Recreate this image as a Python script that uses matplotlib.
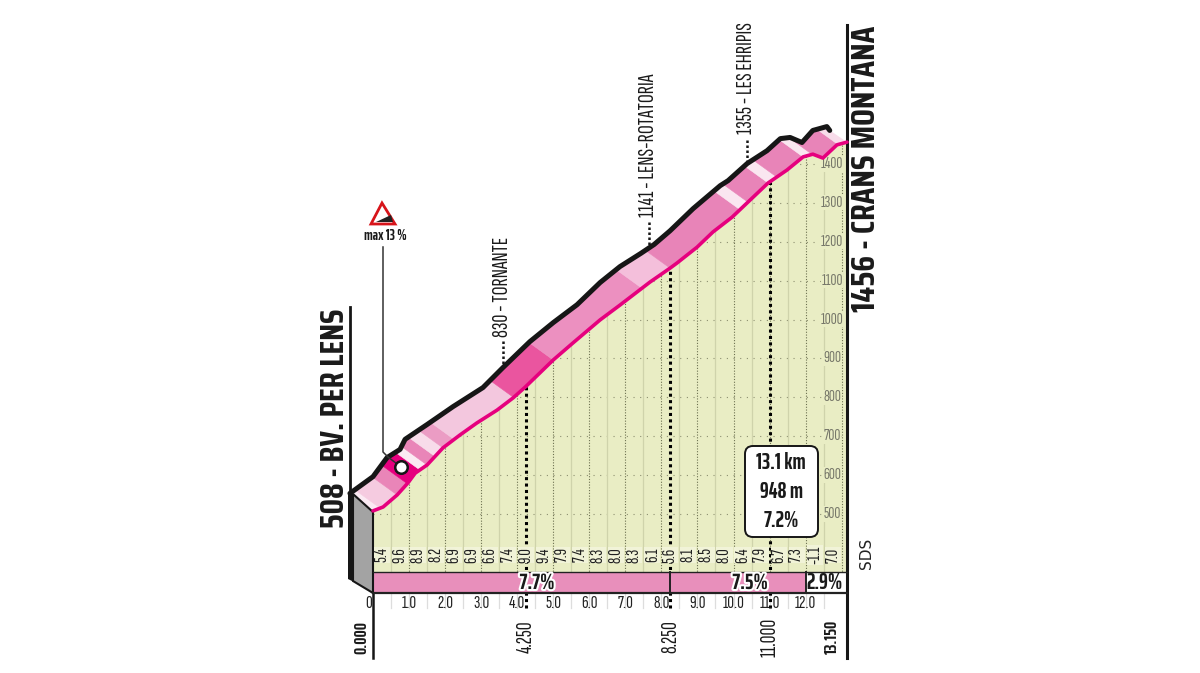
import numpy as np
import matplotlib
matplotlib.use('Agg')
import matplotlib.pyplot as plt
import matplotlib.patheffects as pe
from matplotlib.patches import Polygon, FancyBboxPatch
from matplotlib.transforms import IdentityTransform

NARROW = ['Sofia Sans Extra Condensed', 'DejaVu Sans']
BOLD = ['Saira ExtraCondensed', 'DejaVu Sans']
TITLE = ['Saira Condensed', 'DejaVu Sans']

# road profile, km / metres
profile_km = [0, .28, .67, .97, 1.17, 1.5, 1.94, 2.41, 2.88, 3.44, 3.88, 4.22, 5.0, 5.55, 6.3, 6.85,
              7.68, 8.24, 8.43, 8.99, 9.43, 9.96, 10.46, 10.96, 11.48, 11.93, 12.2, 12.48, 12.87, 13.15]
profile_m = [508, 518, 549, 580, 605, 626, 670, 703, 734, 767, 798, 826, 896, 940, 999, 1037,
             1096, 1132, 1145, 1186, 1225, 1263, 1307, 1351, 1384, 1418, 1425, 1415, 1449, 1456]

# black top edge of the ribbon
top_km = [-.64, 0, .39, .75, .89, 1.5, 2.22, 3.05, 3.6, 4.35, 5.0, 5.66, 6.3, 6.85, 7.43, 7.8, 8.24,
          8.88, 9.63, 9.85, 10.38, 10.93, 11.3, 11.57, 11.9, 12.2, 12.59, 12.67]
top_m = [553, 596, 645, 666, 692, 730, 776, 825, 876, 943, 992, 1038, 1095, 1136, 1170, 1193, 1228,
         1285, 1344, 1357, 1401, 1434, 1465, 1468, 1455, 1486, 1496, 1486]

# gradient per half km
slopes = ['5.4', '9.6', '8.9', '8.2', '6.9', '6.9', '6.6', '7.4', '9.0', '9.4', '7.9', '7.4', '8.3',
          '8.0', '8.3', '6.1', '5.6', '8.1', '8.5', '8.0', '6.4', '7.9', '6.7', '7.3', '-1.1', '7.0']

# coloured bands on the ribbon: km where each ends, and colour
band_end = [.2, .67, .95, 1.30, 1.50, 1.72, 1.94, 2.25, 3.90, 5.0, 7.46, 8.24, 10.18, 10.40,
            10.96, 11.2, 11.93, 12.18, 12.9, 13.15]
band_col = ['#fbeaf3', '#f5cbe0', '#e985b8', '#e6007e', '#fbeaf3', '#e985b8', '#f8dcea', '#eb9cc4', '#f3c7de',
            '#ea559f', '#ec90c0', '#f4bfdb', '#e884b8', '#fae6f0', '#e884b8', '#fae6f0',
            '#e884b8', '#fae6f0', '#e884b8', '#f8dcea']

avg_start = [0, 8.25]
avg_end = [8.25, 12]
avg_text = ['7.7%', '7.5%']
avg_label_px = [537, 750]

elev_ticks = [500, 600, 700, 800, 900, 1000, 1100, 1200, 1300, 1400]
km_ticks = [1, 2, 3, 4, 5, 6, 7, 8, 9, 10, 11, 12]
split_km = [4.25, 8.25, 11.0]
split_lab = ['4.250', '8.250', '11.000']

places = ['830 - TORNANTE', '1141 - LENS-ROTATORIA', '1355 - LES EHRIPIS']
place_x = [502, 648, 746]
place_y = [287, 145, 78]
leader_top = [341, 222, 140]
leader_bot = [368, 245, 165]


# picture pixels to km / metres
def X(px):
    return (px - 373) / 36.05


def Y(py):
    return 500 + (514 - py) / 0.389


fig = plt.figure(figsize=(12, 6.73), dpi=100)
ax = fig.add_axes([0, 0, 1, 1])
ax.set_xlim(X(0), X(1200))
ax.set_ylim(Y(673), Y(0))
ax.axis('off')

base = Y(572)
ax.fill_between(profile_km, profile_m, base, color='#e9edc4', lw=0, zorder=1)
clip_poly = Polygon(list(zip(profile_km, profile_m)) + [(13.15, base), (0, base)], transform=ax.transData)

# grid
for m in elev_ticks:
    l, = ax.plot([0, 13.15], [m, m], color='#8c8f70', lw=.8, ls=(0, (1, 5)), zorder=2)
    l.set_clip_path(clip_poly)
    ax.text(X(832), m, str(m), family=NARROW, fontsize=12, color='#77786a', ha='center', va='center', zorder=5,
            bbox=dict(fc='#e9edc4', ec='none', pad=.5))
for i in range(1, 27):
    k = i * .5
    if i % 2 == 0:
        l, = ax.plot([k, k], [0, 1600], color='#6c7050', lw=.8, ls=(0, (1, 1.5)), zorder=2)
    else:
        l, = ax.plot([k, k], [0, 1600], color='#cfd3ab', lw=.9, zorder=2)
    l.set_clip_path(clip_poly)
    if k < 13:
        ax.plot([k, k], [Y(593), Y(608)], color='#dddddd', lw=.9, zorder=1)

# splits, thick dots
for k in split_km:
    ax.plot([k, k], [Y(608), np.interp(k, profile_km, profile_m)], color='black', lw=2.2, ls=(0, (1, 1.1)), zorder=3)

# ribbon
dx, dy = (X(355) - X(373)) * 1.8, (Y(499) - Y(512)) * 1.8
ribbon = Polygon(list(zip(profile_km, profile_m)) + list(zip(top_km, top_m))[::-1], transform=ax.transData)
start = 0
for end, col in zip(band_end, band_col):
    ks = [start] + [k for k in profile_km if start < k < end] + [end]
    ms = list(np.interp(ks, profile_km, profile_m))
    pts = list(zip(ks, ms)) + [(k + dx, m + dy) for k, m in zip(ks[::-1], ms[::-1])]
    p = Polygon(pts, fc=col, ec=col, lw=.4, zorder=4)
    ax.add_patch(p)
    p.set_clip_path(ribbon)
    start = end
ax.plot(profile_km, profile_m, color='#e6007e', lw=2.6, solid_capstyle='round', zorder=6)
ax.plot(top_km, top_m, color='#161616', lw=3.6, solid_capstyle='round', solid_joinstyle='round', zorder=6)

# start wall
ax.add_patch(Polygon([(X(353), Y(494)), (0, Y(512)), (0, Y(593)), (X(353), Y(581))], fc='#a3a3a3', ec='#161616', lw=1.5, zorder=5))
ax.add_patch(Polygon([(X(348), Y(494)), (X(354), Y(494)), (X(354), Y(582)), (X(348), Y(579))], fc='#161616', ec='none', zorder=5))

# frame lines
ax.plot([X(350), X(350)], [Y(307), Y(494)], color='#161616', lw=2, zorder=5)
ax.plot([13.15, 13.15], [Y(25), Y(658)], color='#161616', lw=2.2, zorder=5)
ax.plot([0, 0], [Y(593), Y(658)], color='#161616', lw=1.8, zorder=5)

# average gradient strip
strip_top, strip_bot = Y(572), Y(593)
halo = [pe.withStroke(linewidth=3, foreground='white')]
for a, b, t, px in zip(avg_start, avg_end, avg_text, avg_label_px):
    ax.fill_between([a, b], strip_bot, strip_top, color='#e88fbb', lw=0, zorder=3.5)
    ax.text(X(px), Y(583), t, family=BOLD, fontsize=16, weight='bold',
            ha='center', va='center', color='#1a1a1a', zorder=7, path_effects=halo)
ax.text(X(824), Y(583), '2.9%', family=BOLD, fontsize=16, weight='bold', ha='center', va='center', color='#1a1a1a', zorder=7)
ax.plot([0, 13.15], [strip_top, strip_top], color='#222222', lw=1, zorder=5)
ax.plot([0, 13.15], [strip_bot, strip_bot], color='#222222', lw=1.6, zorder=5)
ax.plot([8.25, 8.25], [strip_bot, strip_top], color='#222222', lw=1.4, zorder=5)
ax.plot([12, 12], [strip_bot, strip_top], color='#222222', lw=1.4, zorder=5)

for i, s in enumerate(slopes):
    ax.text(i * .5 + .25, Y(555), s, family=NARROW, fontsize=13, rotation=90, ha='center', va='center', color='#1f1f1f', zorder=7,
            bbox=dict(fc='#f1f3d8', ec='none', pad=.4))

# km labels
ax.text(X(369), Y(603), '0', family=NARROW, fontsize=13.5, ha='center', va='center', color='#222222', zorder=7)
for k in km_ticks:
    ax.text(k, Y(603), f'{k}.0', family=NARROW, fontsize=13.5, ha='center', va='center', color='#222222', zorder=7)
ax.text(X(361), Y(637), '0.000', family=BOLD, fontsize=13, weight='bold', rotation=90, ha='center', va='center', color='#1a1a1a')
for k, t in zip(split_km, split_lab):
    ax.text(k, Y(637), t, family=NARROW, fontsize=15.5, rotation=90, ha='center', va='center', color='#1a1a1a')
ax.text(X(832), Y(637), '13.150', family=BOLD, fontsize=13, weight='bold', rotation=90, ha='center', va='center', color='#1a1a1a')

# end names
ax.text(X(335), Y(418), '508 - BV. PER LENS', family=TITLE, fontsize=23.3, weight='bold', rotation=90, ha='center', va='center', color='#1a1a1a')
ax.text(X(866), Y(169), '1456 - CRANS MONTANA', family=TITLE, fontsize=24, weight='bold', rotation=90, ha='center', va='center', color='#1a1a1a')

# passing points
for t, x, y, a, b in zip(places, place_x, place_y, leader_top, leader_bot):
    ax.text(X(x), Y(y), t, family=NARROW, fontsize=16, rotation=90, ha='center', va='center', color='#1a1a1a')
    ax.plot([X(x + 1), X(x + 1)], [Y(a), Y(b)], color='#161616', lw=1.8, ls=(0, (1, 1)), zorder=3)

# summary box, drawn in pixels
ax.add_patch(FancyBboxPatch((745, 673 - 537), 73, 91, boxstyle='round,pad=0,rounding_size=8', transform=IdentityTransform(),
                            fc='white', ec='#161616', lw=1.4, zorder=8))
for t, y in zip(['13.1 km', '948 m', '7.2%'], [463, 492, 521]):
    ax.text(X(781), Y(y), t, family=BOLD, fontsize=16, weight='bold', ha='center', va='center', color='#1a1a1a', zorder=9)

# steepest point marker
ax.plot([X(383), X(383), X(388), X(401)], [Y(247), Y(452), Y(457), Y(467)], color='#333333', lw=1.1, zorder=7)
ax.add_patch(Polygon([(X(382), Y(203)), (X(371), Y(224)), (X(395), Y(224))], fc='white', ec='#d7141a', lw=2, joinstyle='miter', zorder=7))
ax.add_patch(Polygon([(X(376), Y(222)), (X(391), Y(215)), (X(393), Y(222))], fc='#222222', ec='none', zorder=8))
ax.text(X(385), Y(236), 'max 13 %', family=BOLD, fontsize=10.5, weight='bold', ha='center', va='center', color='#1a1a1a')
ax.plot([X(401)], [Y(467)], 'o', ms=9, mfc='white', mec='#161616', mew=1.8, zorder=9)

ax.text(X(866), Y(553), 'SDS', fontsize=11, rotation=90, ha='center', va='center', color='#222222', family='DejaVu Sans')

fig.savefig('out.png', dpi=100)
